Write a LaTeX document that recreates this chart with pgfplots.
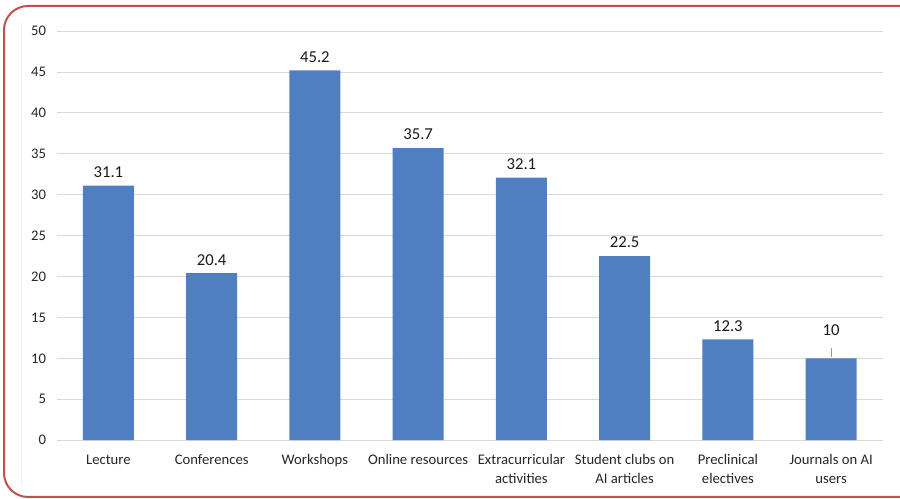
\documentclass[border=0pt]{standalone}
\usepackage{fontspec}
\setmainfont{Carlito}
\usepackage{pgfplots}
\usepackage{pgfplotstable}
\pgfplotsset{compat=1.18}
\definecolor{barblue}{HTML}{4F7EC1}
\definecolor{framered}{HTML}{C0504D}
\definecolor{gridgray}{HTML}{D9D9D9}

% x = category index, y = percent, off = label lift (pt)
\pgfplotstableread{
x y off
0 31.1 2.5
1 20.4 2.5
2 45.2 2.5
3 35.7 2.5
4 32.1 2.5
5 22.5 2.5
6 12.3 2.5
7 10 13.5
}\datatable

\begin{document}
\begin{tikzpicture}[x=0.75pt,y=0.75pt]
\useasboundingbox (0,0) rectangle (900,499);
\draw[framered, line width=1.5pt, rounded corners=18] (4,2) rectangle (930,493);
\draw[black!6] (21,477) -- (21,14);
\begin{axis}[
    at={(55,72)}, anchor=south west,
    scale only axis,
    width=619.5pt, height=306.75pt,
    xmin=-0.5, xmax=7.5,
    ymin=0, ymax=50,
    ytick={0,5,...,50},
    xtick={0,...,7},
    xticklabels={Lecture, Conferences, Workshops, Online resources,
        Extracurricular\\activities, Student clubs on\\AI articles,
        Preclinical\\electives, Journals on AI\\users},
    axis line style={draw=none},
    major tick length=0pt,
    ymajorgrids,
    grid style={gridgray, line width=0.6pt},
    /pgf/number format/assume math mode=true,
    ticklabel style={font=\fontsize{11}{14.25}\selectfont, text=black!85},
    xticklabel style={align=center, yshift=-7.5pt},
    yticklabel style={xshift=-4.5pt},
    clip=false,
]
\addplot[ybar, bar width=38.25pt, fill=barblue, draw=none,
    visualization depends on={\thisrow{off} \as \labeloff},
    nodes near coords,
    nodes near coords style={font=\fontsize{12.5}{15}\selectfont,
        text=black!90, yshift=\labeloff,
        /pgf/number format/assume math mode=true}]
    table[x=x, y=y] {\datatable};
\addplot[sharp plot, black!40, line width=0.6pt, no marks]
    coordinates {(7,10.2) (7,11.2)};
\end{axis}
\end{tikzpicture}
\end{document}
